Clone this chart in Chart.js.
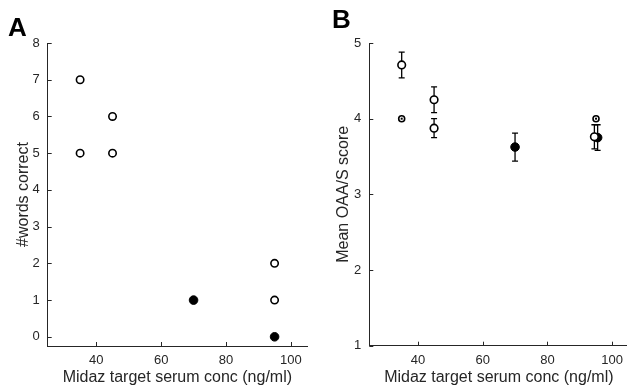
<!DOCTYPE html>
<html>
<head>
<meta charset="utf-8">
<script src="https://cdn.jsdelivr.net/npm/chart.js@4"></script>
<style>
  html, body { margin: 0; padding: 0; background: #fff; overflow: hidden; }
  body { width: 627px; height: 387px; position: relative; }
  .panel { position: absolute; top: 0; height: 387px; width: 320px; }
  .tag { position: absolute; font: bold 26px "Liberation Sans", Arial, sans-serif; color: #000; line-height: 1; }
</style>
</head>
<body>
<div class="panel" style="left:0"><canvas id="chart-a"></canvas></div>
<div class="panel" style="left:320px"><canvas id="chart-b"></canvas></div>
<div class="tag" style="left:8px; top:14px">A</div>
<div class="tag" style="left:332px; top:6px">B</div>
<script>
// panel A: words recalled
var aOpenX = [35, 35, 45, 45, 95, 95];
var aOpenY = [7, 5, 6, 5, 2, 1];
var aFillX = [70, 95];
var aFillY = [1, 0];
var aYTicks = [0, 1, 2, 3, 4, 5, 6, 7, 8];

// panel B: mean OAA/S score with error bars
var bOpenX = [35, 35, 45, 45, 94.5, 95];
var bOpenY = [4.71, 4.0, 4.25, 3.875, 3.76, 4.0];
var bOpenErr = [0.17, 0, 0.17, 0.125, 0.16, 0];
var bFillX = [70, 95.5];
var bFillY = [3.625, 3.75];
var bFillErr = [0.185, 0.17];
var bYTicks = [1, 2, 3, 4, 5];

var xTicks = [40, 60, 80, 100];
var xTitle = 'Midaz target serum conc (ng/ml)';

var axisColor = '#262626';
var font = '"Liberation Sans", Arial, sans-serif';

function pts(xs, ys) {
    var out = [];
    for (var i = 0; i < xs.length; i++) out.push({x: xs[i], y: ys[i]});
    return out;
}

// MATLAB style ticks pointing into the plot
var inwardTicks = {
    id: 'inwardTicks',
    afterDraw: function(chart) {
        var ctx = chart.ctx, xs = chart.scales.x, ys = chart.scales.y;
        ctx.save();
        ctx.strokeStyle = axisColor;
        ctx.lineWidth = 1;
        ctx.beginPath();
        xs.ticks.forEach(function(t) {
            var px = Math.round(xs.getPixelForValue(t.value)) + 0.5;
            ctx.moveTo(px, ys.bottom);
            ctx.lineTo(px, ys.bottom - 4);
        });
        ys.ticks.forEach(function(t) {
            var py = Math.round(ys.getPixelForValue(t.value)) + 0.5;
            ctx.moveTo(xs.left, py);
            ctx.lineTo(xs.left + 4, py);
        });
        ctx.stroke();
        ctx.restore();
    }
};

var errorBars = {
    id: 'errorBars',
    beforeDatasetsDraw: function(chart) {
        var ctx = chart.ctx, xs = chart.scales.x, ys = chart.scales.y;
        ctx.save();
        ctx.strokeStyle = '#000';
        ctx.lineWidth = 1.3;
        chart.data.datasets.forEach(function(ds) {
            if (!ds.errors) return;
            ds.data.forEach(function(p, i) {
                var e = ds.errors[i];
                if (!e) return;
                var px = xs.getPixelForValue(p.x);
                var top = ys.getPixelForValue(p.y + e);
                var bot = ys.getPixelForValue(p.y - e);
                ctx.beginPath();
                ctx.moveTo(px, top); ctx.lineTo(px, bot);
                ctx.moveTo(px - 3, top); ctx.lineTo(px + 3, top);
                ctx.moveTo(px - 3, bot); ctx.lineTo(px + 3, bot);
                ctx.stroke();
            });
        });
        ctx.restore();
    },
    afterDatasetsDraw: function(chart) {
        // zero-length bars leave a dot in the marker centre
        var ctx = chart.ctx, xs = chart.scales.x, ys = chart.scales.y;
        ctx.save();
        ctx.fillStyle = '#000';
        chart.data.datasets.forEach(function(ds) {
            if (!ds.errors) return;
            ds.data.forEach(function(p, i) {
                if (ds.errors[i]) return;
                ctx.fillRect(xs.getPixelForValue(p.x) - 1, ys.getPixelForValue(p.y) - 1, 2, 2);
            });
        });
        ctx.restore();
    }
};

function makeOptions(yMin, yMax, yTicks, yTitle, pad, yWidth, xHeight) {
    return {
        responsive: true,
        maintainAspectRatio: false,
        animation: false,
        layout: {padding: pad},
        plugins: {legend: {display: false}, tooltip: {enabled: false}},
        scales: {
            x: {
                type: 'linear', min: 25, max: 105,
                grid: {display: false, drawTicks: false, tickLength: 0},
                border: {display: true, color: axisColor, width: 1},
                afterBuildTicks: function(s) { s.ticks = xTicks.map(function(v) { return {value: v}; }); },
                afterFit: function(s) { s.height = xHeight; },
                ticks: {color: axisColor, font: {family: font, size: 13}, padding: 7, maxRotation: 0},
                title: {display: true, text: xTitle, color: axisColor, font: {family: font, size: 16}, padding: {top: 0, bottom: 0}}
            },
            y: {
                type: 'linear', min: yMin, max: yMax,
                grid: {display: false, drawTicks: false, tickLength: 0},
                border: {display: true, color: axisColor, width: 1},
                afterBuildTicks: function(s) { s.ticks = yTicks.map(function(v) { return {value: v}; }); },
                afterFit: function(s) { s.width = yWidth; },
                ticks: {color: axisColor, font: {family: font, size: 13}, padding: 8},
                title: {display: true, text: yTitle, color: axisColor, font: {family: font, size: 16}, padding: {top: 6, bottom: 0}}
            }
        }
    };
}

new Chart(document.getElementById('chart-a'), {
    type: 'scatter',
    data: {
        datasets: [
            {data: pts(aOpenX, aOpenY), pointRadius: 3.7, pointBorderWidth: 1.6,
             pointBorderColor: '#000', pointBackgroundColor: '#fff'},
            {data: pts(aFillX, aFillY), pointRadius: 4.3, pointBorderWidth: 1,
             pointBorderColor: '#000', pointBackgroundColor: '#000'}
        ]
    },
    options: makeOptions(-0.25, 8, aYTicks, '#words correct',
        {left: 8, right: 13, top: 43, bottom: 0}, 39.7, 41),
    plugins: [inwardTicks]
});

new Chart(document.getElementById('chart-b'), {
    type: 'scatter',
    data: {
        datasets: [
            {data: pts(bOpenX, bOpenY), errors: bOpenErr,
             pointRadius: bOpenErr.map(function(e) { return e ? 3.8 : 3.0; }), pointBorderWidth: 1.6,
             pointBorderColor: '#000', pointBackgroundColor: '#fff'},
            {data: pts(bFillX, bFillY), errors: bFillErr, pointRadius: 4.3, pointBorderWidth: 1,
             pointBorderColor: '#000', pointBackgroundColor: '#000'}
        ]
    },
    options: makeOptions(1, 5, bYTicks, 'Mean OAA/S score',
        {left: 8, right: 11.6, top: 43, bottom: 0}, 41.3, 41.3),
    plugins: [errorBars, inwardTicks]
});
</script>
</body>
</html>
